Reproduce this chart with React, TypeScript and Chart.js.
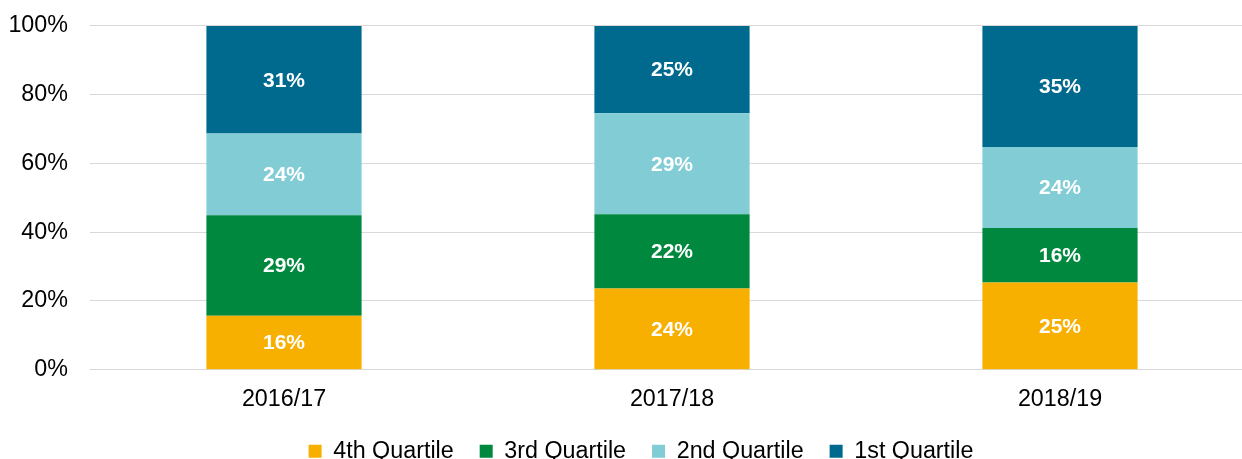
import React, { useEffect, useRef } from "react";
import { Chart, registerables } from "chart.js";

Chart.register(...registerables);

const categories = ["2016/17", "2017/18", "2018/19"];
const seriesNames = ["4th Quartile", "3rd Quartile", "2nd Quartile", "1st Quartile"];
const q4 = [15.7, 23.6, 25.4];
const q3 = [29.2, 21.6, 15.8];
const q2 = [23.8, 29.4, 23.6];
const q1 = [31.3, 25.4, 35.2];
const colors = ["#F8B000", "#00893E", "#82CCD6", "#006A8E"];
const yTicks = [0, 20, 40, 60, 80, 100];

const FONT = "'Liberation Sans', Arial, sans-serif";
const FS = 23.3;

const dataLabelPlugin = {
  id: "dataLabels",
  afterDatasetsDraw(chart: any) {
    const ctx = chart.ctx;
    ctx.save();
    ctx.fillStyle = "#ffffff";
    ctx.font = `bold 21px ${FONT}`;
    ctx.textAlign = "center";
    ctx.textBaseline = "middle";
    chart.data.datasets.forEach((ds: any, i: number) => {
      const meta = chart.getDatasetMeta(i);
      meta.data.forEach((bar: any, j: number) => {
        const v = ds.data[j];
        const y = (bar.y + bar.base) / 2;
        ctx.fillText(Math.round(v) + "%", bar.x, y + 1);
      });
    });
    ctx.restore();
  },
};

export default function App() {
  const ref = useRef<HTMLCanvasElement>(null);
  useEffect(() => {
    if (!ref.current) return;
    const chart = new Chart(ref.current, {
      type: "bar",
      data: {
        labels: categories,
        datasets: [q4, q3, q2, q1].map((d, i) => ({
          label: seriesNames[i],
          data: d,
          backgroundColor: colors[i],
          borderWidth: 0,
          categoryPercentage: 1,
          barPercentage: 0.4,
        })),
      },
      options: {
        animation: false,
        responsive: false,
        maintainAspectRatio: false,
        layout: { padding: { top: 7, right: 0, bottom: 0, left: 0 } },
        plugins: {
          tooltip: { enabled: false },
          legend: {
            position: "bottom",
            align: "center",
            labels: {
              boxWidth: 13,
              boxHeight: 13,
              padding: 26,
              color: "#000",
              font: { family: FONT, size: FS },
            },
          },
        },
        scales: {
          x: {
            stacked: true,
            grid: { display: false, drawTicks: false },
            border: { display: false },
            ticks: { color: "#000", font: { family: FONT, size: FS }, padding: 16 },
            afterFit: (s: any) => {
              s.height = 44;
            },
          },
          y: {
            stacked: true,
            min: 0,
            max: 100,
            afterFit: (s: any) => {
              s.width = 90;
            },
            afterBuildTicks: (s: any) => {
              s.ticks = yTicks.map((v) => ({ value: v }));
            },
            grid: { color: "#D9D9D9", lineWidth: 1, drawTicks: false },
            border: { display: false },
            ticks: {
              color: "#000",
              padding: 22,
              font: { family: FONT, size: FS },
              callback: (v: any) => v + "%",
            },
          },
          yRight: {
            position: "right",
            display: true,
            grid: { display: false, drawTicks: false },
            border: { display: false },
            ticks: { display: false },
            afterFit: (s: any) => {
              s.width = 28;
            },
          },
        },
      },
      plugins: [dataLabelPlugin],
    });
    return () => chart.destroy();
  }, []);
  return (
    <div style={{ position: "absolute", left: 0, top: 0, width: 1242, height: 459, overflow: "hidden" }}>
      <canvas
        ref={ref}
        width={1282}
        height={483}
        style={{ display: "block", position: "absolute", left: 0, top: -10 }}
      />
    </div>
  );
}
